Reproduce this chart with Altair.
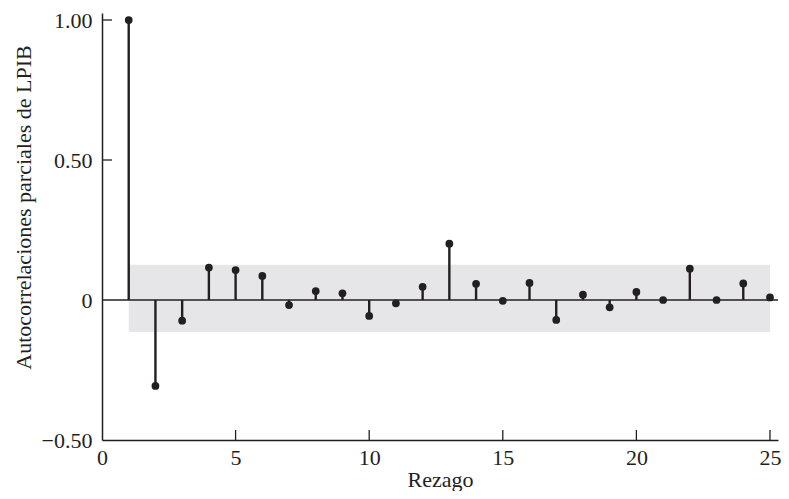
import altair as alt
import pandas as pd

lags = list(range(1, 26))
pacf = [1.00, -0.307, -0.074, 0.116, 0.107, 0.086, -0.018, 0.032, 0.024, -0.057,
        -0.012, 0.047, 0.201, 0.058, -0.003, 0.061, -0.071, 0.019, -0.026, 0.029,
        0.0, 0.112, 0.0, 0.059, 0.009]
band_lo, band_hi = -0.114, 0.126
band_start, band_end = 1, 25
x_ticks = [0, 5, 10, 15, 20, 25]
y_ticks = [-0.5, 0.0, 0.5, 1.0]

W, H = 676, 427
FONT = "Liberation Serif"
INK = "#231f20"
FS = 22

df = pd.DataFrame({"lag": lags, "pacf": pacf, "zero": [0.0] * len(lags)})
band_df = pd.DataFrame({"x1": [band_start], "x2": [band_end], "lo": [band_lo], "hi": [band_hi]})

xs = alt.Scale(domain=[0, 25.3], nice=False, zero=False)
ys = alt.Scale(domain=[-0.5, 1.025], nice=False, zero=False)

xaxis = alt.Axis(values=x_ticks, title="Rezago", grid=False, ticks=False,
                 domainColor=INK, domainWidth=1.5, labelFont=FONT, labelFontSize=FS,
                 labelColor=INK, titleFont=FONT, titleFontSize=FS, titleFontWeight="normal",
                 titleColor=INK, labelPadding=7, titleY=46, titleBaseline="alphabetic",
                 labelFlush=False)
yaxis = alt.Axis(values=y_ticks, title="Autocorrelaciones parciales de LPIB", grid=False, ticks=False,
                 domainColor=INK, domainWidth=1.5, labelFont=FONT, labelFontSize=FS,
                 labelColor=INK, titleFont=FONT, titleFontSize=FS, titleFontWeight="normal",
                 titleColor=INK, labelPadding=10, titlePadding=6, titleY=194,
                 labelExpr="datum.value == 0 ? '0' : replace(format(datum.value, '.2f'), '-', '\u2013')")

band = alt.Chart(band_df).mark_rect(color="#e6e6e8").encode(
    x=alt.X("x1:Q", scale=xs, axis=xaxis), x2="x2:Q",
    y=alt.Y("lo:Q", scale=ys, axis=yaxis), y2="hi:Q")

zero = alt.Chart(pd.DataFrame({"z": [0.0]})).mark_rule(color=INK, strokeWidth=1.5).encode(
    y=alt.Y("z:Q", scale=ys))

stems = alt.Chart(df).mark_rule(color=INK, strokeWidth=2.4).encode(
    x=alt.X("lag:Q", scale=xs), y=alt.Y("zero:Q", scale=ys), y2="pacf:Q")

dots = alt.Chart(df).mark_circle(color=INK, opacity=1, size=60).encode(
    x=alt.X("lag:Q", scale=xs), y=alt.Y("pacf:Q", scale=ys))

ytk = alt.Chart(pd.DataFrame({"v": [t for t in y_ticks if t > 0]})).mark_rule(
    color=INK, strokeWidth=1.3).encode(
    y=alt.Y("v:Q", scale=ys), x=alt.value(0), x2=alt.value(10))

xtk = alt.Chart(pd.DataFrame({"v": [t for t in x_ticks if t > 0]})).mark_rule(
    color=INK, strokeWidth=1.3).encode(
    x=alt.X("v:Q", scale=xs), y=alt.value(H), y2=alt.value(H - 10))

chart = alt.layer(band, zero, stems, dots, ytk, xtk).properties(
    width=W, height=H,
    autosize=alt.AutoSizeParams(type="none"),
    padding={"left": 94, "top": 5, "right": 3, "bottom": 51},
).configure(background="white").configure_view(stroke=None)

chart.save("out.html", embed_options={"renderer": "svg", "actions": False})
